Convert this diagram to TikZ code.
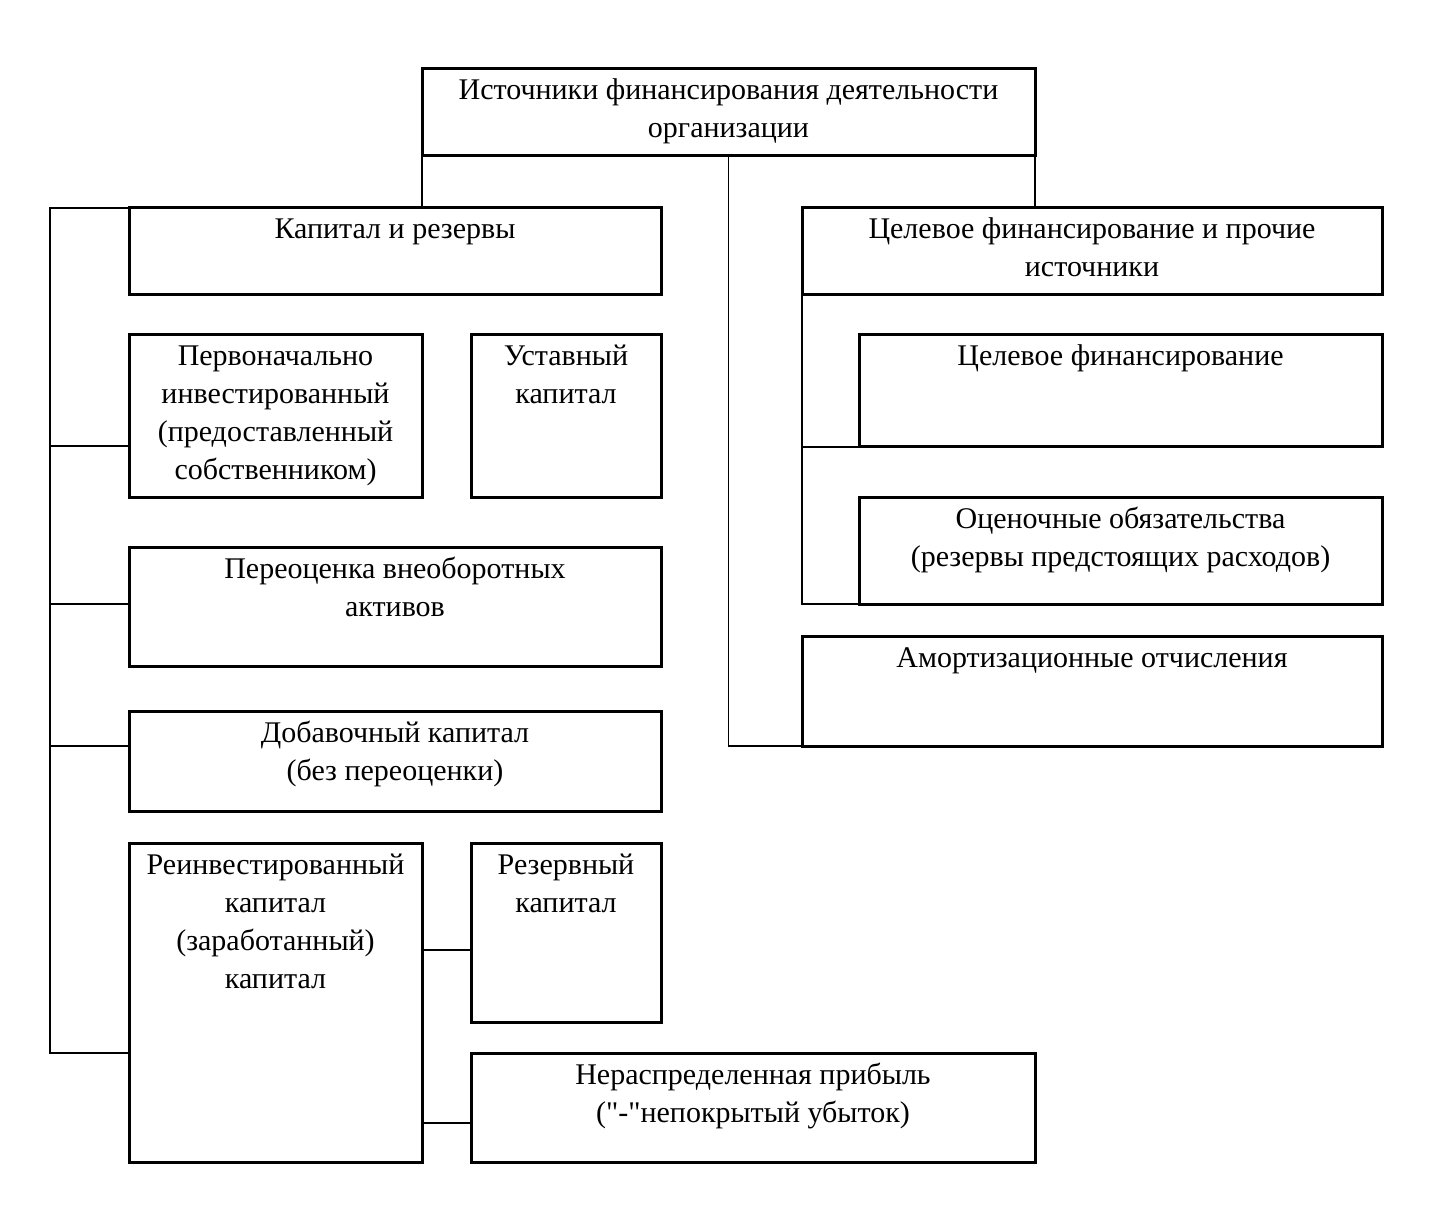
\documentclass[tikz,border=0pt]{standalone}
\usepackage{fontspec}
\setmainfont{Liberation Serif}[Ligatures=TeXOff]
\begin{document}
\begin{tikzpicture}[x=1pt,y=-1pt,
  box/.style={draw, line width=3pt, inner sep=0pt, outer sep=0pt},
  lbl/.style={anchor=base, inner sep=0pt, yshift=-31pt},
  conn/.style={line width=1.1pt},
  every label/.style={lbl}]
\useasboundingbox (0,0) rectangle (1433,1222);
\newcommand{\tx}[1]{\parbox[t]{700pt}{\centering\fontsize{30}{38}\selectfont #1}}
% boxes
\node[box, minimum width=613pt, minimum height=87pt, label={north:{\tx{Источники финансирования деятельности\\организации}}}] (top) at (728.5,112.5) {};
\node[box, minimum width=532pt, minimum height=87pt, label={north:{\tx{Капитал и резервы}}}] (kap) at (395,251.5) {};
\node[box, minimum width=580pt, minimum height=87pt, label={north:{\tx{Целевое финансирование и прочие\\источники}}}] (cel) at (1092,251.5) {};
\node[box, minimum width=293pt, minimum height=162pt, label={north:{\tx{Первоначально\\инвестированный\\(предоставленный\\собственником)}}}] (perv) at (275.5,416) {};
\node[box, minimum width=190pt, minimum height=162pt, label={north:{\tx{Уставный\\капитал}}}] (ust) at (566,416) {};
\node[box, minimum width=532pt, minimum height=119pt, label={north:{\tx{Переоценка внеоборотных\\активов}}}] (pere) at (395,606.5) {};
\node[box, minimum width=532pt, minimum height=100pt, label={north:{\tx{Добавочный капитал\\(без переоценки)}}}] (dob) at (395,761) {};
\node[box, minimum width=293pt, minimum height=319pt, label={north:{\tx{Реинвестированный\\капитал\\(заработанный)\\капитал}}}] (reinv) at (275.5,1002.5) {};
\node[box, minimum width=190pt, minimum height=179pt, label={north:{\tx{Резервный\\капитал}}}] (rez) at (566,932.5) {};
\node[box, minimum width=564pt, minimum height=109pt, label={north:{\tx{Нераспределенная прибыль\\(\symbol{34}-\symbol{34}непокрытый убыток)}}}] (ner) at (753,1107.5) {};
\node[box, minimum width=523pt, minimum height=112pt, label={north:{\tx{Целевое финансирование}}}] (cf) at (1120.5,391) {};
\node[box, minimum width=523pt, minimum height=107pt, label={north:{\tx{Оценочные обязательства\\(резервы предстоящих расходов)}}}] (oc) at (1120.5,550.5) {};
\node[box, minimum width=580pt, minimum height=110pt, label={north:{\tx{Амортизационные отчисления}}}] (am) at (1092,691) {};
% connector coordinates
\coordinate (bustop) at (50,208);
\coordinate (busbot) at (50,1053);
\coordinate (bperv) at (50,446);
\coordinate (bpere) at (50,604);
\coordinate (bdob) at (50,746);
\coordinate (rrez) at (422,950);
\coordinate (rner) at (422,1123);
% connectors
\draw[conn] (top.south west) -- (top.south west |- kap.north);
\draw[conn] (top.south east) -- (top.south east |- cel.north);
\draw[conn] (top.south) |- (am.south west);
\draw[conn] (kap.north west) -- (bustop) -- (busbot) -- (busbot -| reinv.west);
\draw[conn] (bperv) -- (bperv -| perv.west);
\draw[conn] (bpere) -- (bpere -| pere.west);
\draw[conn] (bdob) -- (bdob -| dob.west);
\draw[conn] (cel.south west) |- (cf.south west);
\draw[conn] (cel.south west) |- (oc.south west);
\draw[conn] (rrez) -- (rrez -| rez.west);
\draw[conn] (rner) -- (rner -| ner.west);
\end{tikzpicture}
\end{document}
